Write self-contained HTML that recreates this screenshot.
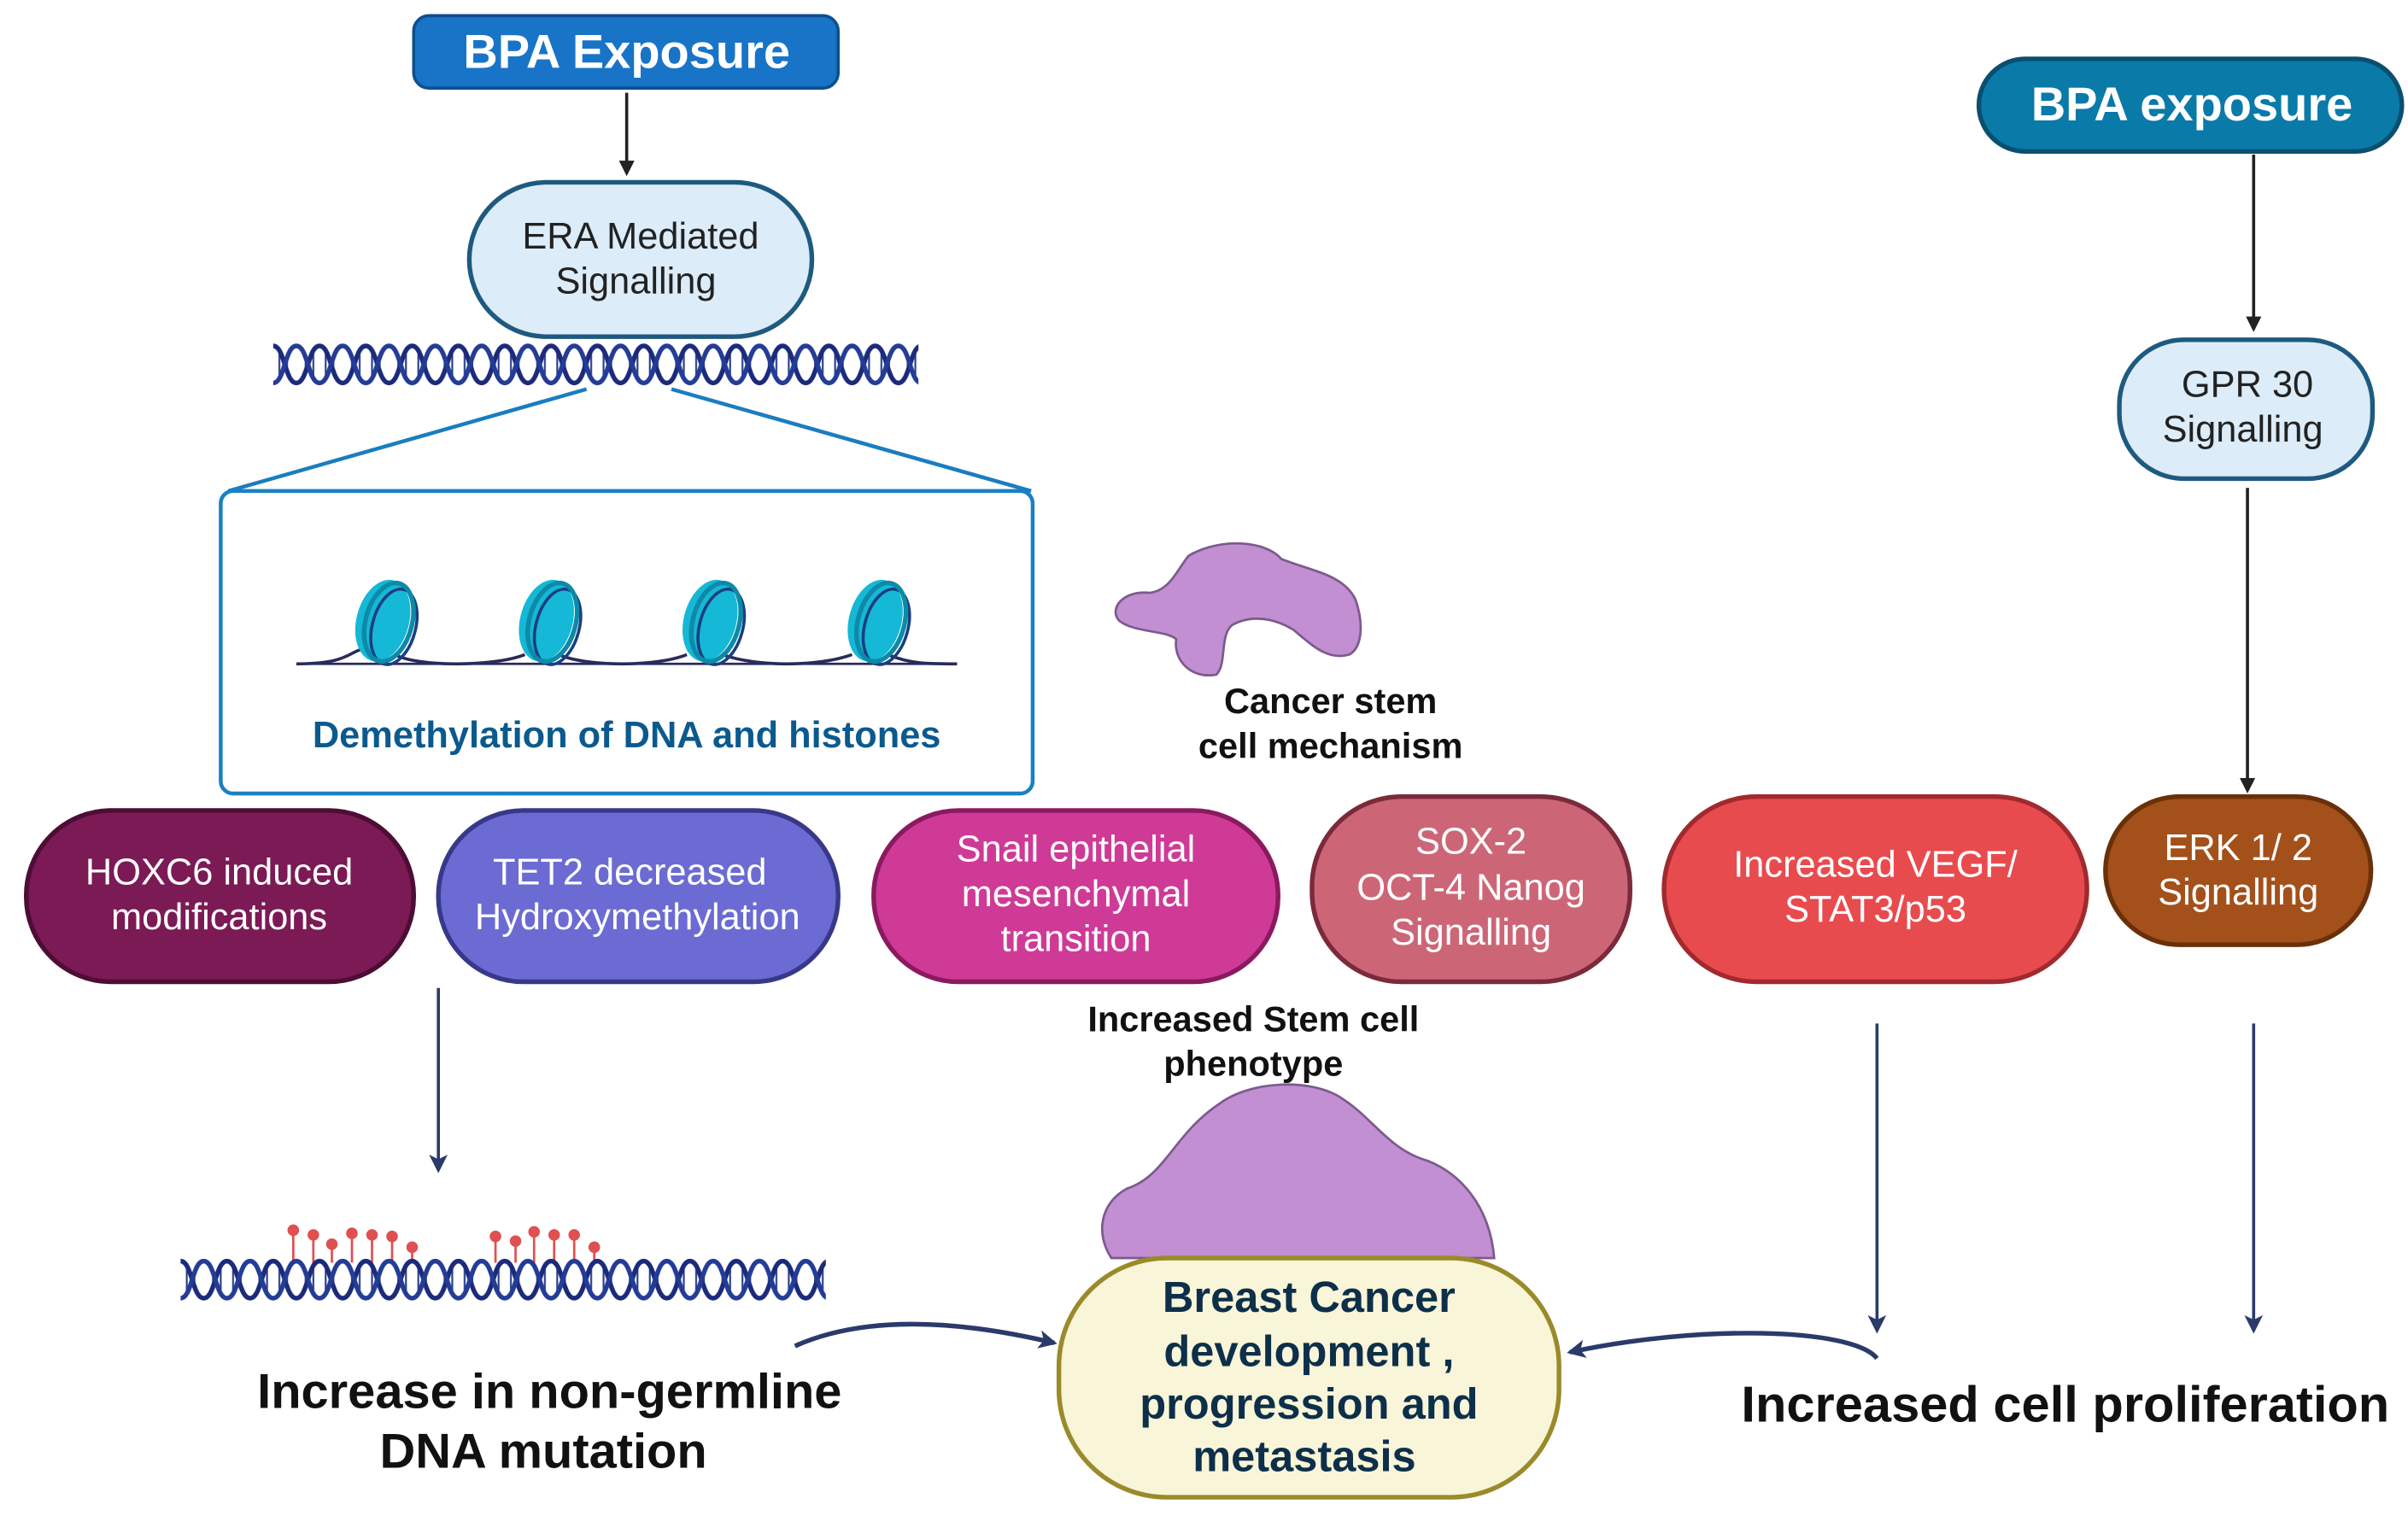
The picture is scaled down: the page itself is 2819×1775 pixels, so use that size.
<!DOCTYPE html>
<html><head><meta charset="utf-8"><style>
html,body{margin:0;padding:0;background:#fff;}
svg{display:block;}
text{font-family:"Liberation Sans Narrow","Liberation Sans",sans-serif;}
</style></head><body>
<svg width="2819" height="1775" viewBox="0 0 1560 982" xmlns="http://www.w3.org/2000/svg">
<defs>
<pattern id="dna" x="177" y="222" width="30" height="28" patternUnits="userSpaceOnUse">
<g stroke="#2a3f8f" stroke-width="1.2"><line x1="4" y1="4" x2="4" y2="24"/><line x1="9" y1="8" x2="9" y2="20"/><line x1="21" y1="8" x2="21" y2="20"/><line x1="26" y1="4" x2="26" y2="24"/></g>
<path d="M0,2 C7.5,2 7.5,26 15,26 C22.5,26 22.5,2 30,2" fill="none" stroke="#1b2a7a" stroke-width="3"/>
<path d="M0,26 C7.5,26 7.5,2 15,2 C22.5,2 22.5,26 30,26" fill="none" stroke="#243c96" stroke-width="3"/>
</pattern>
<pattern id="dna2" x="117" y="815" width="30" height="28" patternUnits="userSpaceOnUse">
<g stroke="#2a3f8f" stroke-width="1.2"><line x1="4" y1="4" x2="4" y2="24"/><line x1="9" y1="8" x2="9" y2="20"/><line x1="21" y1="8" x2="21" y2="20"/><line x1="26" y1="4" x2="26" y2="24"/></g>
<path d="M0,2 C7.5,2 7.5,26 15,26 C22.5,26 22.5,2 30,2" fill="none" stroke="#1b2a7a" stroke-width="3"/>
<path d="M0,26 C7.5,26 7.5,2 15,2 C22.5,2 22.5,26 30,26" fill="none" stroke="#243c96" stroke-width="3"/>
</pattern>
<marker id="ak" markerWidth="10" markerHeight="10" refX="8" refY="5" orient="auto" markerUnits="userSpaceOnUse"><path d="M0,0 L10,5 L0,10 Z" fill="#222"/></marker>
<marker id="an" markerWidth="12" markerHeight="12" refX="10" refY="6" orient="auto" markerUnits="userSpaceOnUse"><path d="M0,0 L12,6 L0,12 L3,6 Z" fill="#2a3a6a"/></marker>
</defs>

<rect x="268" y="10" width="275" height="47" rx="10" fill="#1874c7" stroke="#0d4f8f" stroke-width="2"/>
<text x="406" y="44" text-anchor="middle" font-size="31" font-weight="bold" fill="#fff">BPA Exposure</text>
<line x1="406" y1="60" x2="406" y2="112" stroke="#222" stroke-width="2" marker-end="url(#ak)"/>

<rect x="304" y="118" width="222" height="100" rx="50" fill="#dcecf8" stroke="#1e5a80" stroke-width="3"/>
<text x="415" y="161" text-anchor="middle" font-size="24" fill="#222">ERA Mediated</text>
<text x="412" y="190" text-anchor="middle" font-size="24" fill="#222">Signalling</text>

<rect x="177" y="222" width="418" height="28" fill="url(#dna)"/>
<line x1="380" y1="252" x2="148" y2="318" stroke="#1a7dc0" stroke-width="2.5"/>
<line x1="435" y1="252" x2="668" y2="318" stroke="#1a7dc0" stroke-width="2.5"/>
<rect x="143" y="318" width="526" height="196" rx="8" fill="#fff" stroke="#1a80c4" stroke-width="2.5"/>
<path d="M192,430 C230,430 225,420 240,420 M256,424 C270,432 320,432 340,424 M362,424 C380,432 425,432 445,424 M468,424 C490,432 530,432 552,424 M575,424 C590,430 600,430 620,430" fill="none" stroke="#2a2a5a" stroke-width="2"/>
<line x1="192" y1="430" x2="620" y2="430" stroke="#2a2a5a" stroke-width="1.5"/>
<g>
<g transform="translate(248,402) rotate(15)"><ellipse cx="0" cy="0" rx="17" ry="27" fill="#15b8d6"/><ellipse cx="8" cy="2" rx="14" ry="25" fill="none" stroke="#1a3f80" stroke-width="2"/><ellipse cx="4" cy="0" rx="15" ry="26" fill="none" stroke="#0c8aa8" stroke-width="3"/></g>
<g transform="translate(354,402) rotate(15)"><ellipse cx="0" cy="0" rx="17" ry="27" fill="#15b8d6"/><ellipse cx="8" cy="2" rx="14" ry="25" fill="none" stroke="#1a3f80" stroke-width="2"/><ellipse cx="4" cy="0" rx="15" ry="26" fill="none" stroke="#0c8aa8" stroke-width="3"/></g>
<g transform="translate(460,402) rotate(15)"><ellipse cx="0" cy="0" rx="17" ry="27" fill="#15b8d6"/><ellipse cx="8" cy="2" rx="14" ry="25" fill="none" stroke="#1a3f80" stroke-width="2"/><ellipse cx="4" cy="0" rx="15" ry="26" fill="none" stroke="#0c8aa8" stroke-width="3"/></g>
<g transform="translate(567,402) rotate(15)"><ellipse cx="0" cy="0" rx="17" ry="27" fill="#15b8d6"/><ellipse cx="8" cy="2" rx="14" ry="25" fill="none" stroke="#1a3f80" stroke-width="2"/><ellipse cx="4" cy="0" rx="15" ry="26" fill="none" stroke="#0c8aa8" stroke-width="3"/></g>
</g>
<text x="406" y="484" text-anchor="middle" font-size="24" font-weight="bold" fill="#0b5a8e">Demethylation of DNA and histones</text>

<path d="M770,360 C790,348 820,350 830,362 C850,370 870,372 878,388 C884,405 882,420 874,424 C860,428 850,418 838,408 C825,400 810,398 798,405 C790,412 795,430 788,437 C772,440 760,428 762,414 C755,408 735,410 725,402 C718,394 728,382 745,384 C758,382 762,370 770,360 Z" fill="#c18fd2" stroke="#7c5a8c" stroke-width="1.5"/>
<text x="862" y="462" text-anchor="middle" font-size="23" font-weight="bold" fill="#111">Cancer stem</text>
<text x="862" y="491" text-anchor="middle" font-size="23" font-weight="bold" fill="#111">cell mechanism</text>

<rect x="17" y="525" width="251" height="111" rx="55" fill="#7b1a55" stroke="#4d0d35" stroke-width="3"/>
<text x="142" y="573" text-anchor="middle" font-size="24" fill="#fff">HOXC6 induced</text>
<text x="142" y="602" text-anchor="middle" font-size="24" fill="#fff">modifications</text>
<rect x="284" y="525" width="259" height="111" rx="55" fill="#6b6bd3" stroke="#38388a" stroke-width="3"/>
<text x="408" y="573" text-anchor="middle" font-size="24" fill="#fff">TET2 decreased</text>
<text x="413" y="602" text-anchor="middle" font-size="24" fill="#fff">Hydroxymethylation</text>
<rect x="566" y="525" width="262" height="111" rx="55" fill="#cf3a97" stroke="#8a1a60" stroke-width="3"/>
<text x="697" y="558" text-anchor="middle" font-size="24" fill="#fff">Snail epithelial</text>
<text x="697" y="587" text-anchor="middle" font-size="24" fill="#fff">mesenchymal</text>
<text x="697" y="616" text-anchor="middle" font-size="24" fill="#fff">transition</text>
<rect x="850" y="516" width="206" height="120" rx="58" fill="#cc6677" stroke="#7a2a3a" stroke-width="3"/>
<text x="953" y="553" text-anchor="middle" font-size="24" fill="#fff">SOX-2</text>
<text x="953" y="583" text-anchor="middle" font-size="24" fill="#fff">OCT-4 Nanog</text>
<text x="953" y="612" text-anchor="middle" font-size="24" fill="#fff">Signalling</text>
<rect x="1078" y="516" width="274" height="120" rx="60" fill="#e84b4e" stroke="#a02a2e" stroke-width="3"/>
<text x="1215" y="568" text-anchor="middle" font-size="24" fill="#fff">Increased  VEGF/</text>
<text x="1215" y="597" text-anchor="middle" font-size="24" fill="#fff">STAT3/p53</text>
<rect x="1364" y="516" width="172" height="96" rx="48" fill="#a3501a" stroke="#6a300a" stroke-width="3"/>
<text x="1450" y="557" text-anchor="middle" font-size="24" fill="#fff">ERK 1/ 2</text>
<text x="1450" y="586" text-anchor="middle" font-size="24" fill="#fff">Signalling</text>

<rect x="1282" y="38" width="274" height="60" rx="30" fill="#0a7aa8" stroke="#0a4f70" stroke-width="3"/>
<text x="1420" y="78" text-anchor="middle" font-size="31" font-weight="bold" fill="#fff">BPA exposure</text>
<line x1="1460" y1="100" x2="1460" y2="213" stroke="#222" stroke-width="2" marker-end="url(#ak)"/>
<rect x="1373" y="220" width="164" height="90" rx="42" fill="#dcecf8" stroke="#1e5a80" stroke-width="3"/>
<text x="1456" y="257" text-anchor="middle" font-size="24" fill="#222">GPR 30</text>
<text x="1453" y="286" text-anchor="middle" font-size="24" fill="#222">Signalling</text>
<line x1="1456" y1="316" x2="1456" y2="512" stroke="#222" stroke-width="2" marker-end="url(#ak)"/>

<text x="812" y="668" text-anchor="middle" font-size="23" font-weight="bold" fill="#111">Increased Stem cell</text>
<text x="812" y="697" text-anchor="middle" font-size="23" font-weight="bold" fill="#111">phenotype</text>
<path d="M790,715 C810,700 850,698 870,712 C890,725 900,745 925,752 C945,760 965,780 968,815 L720,815 C710,800 712,780 730,770 C755,762 760,735 790,715 Z" fill="#c18fd2" stroke="#7c5a8c" stroke-width="1.5"/>
<rect x="686" y="815" width="324" height="155" rx="70" fill="#f8f5d8" stroke="#9b8a2a" stroke-width="3"/>
<text x="848" y="850" text-anchor="middle" font-size="28" font-weight="bold" fill="#0d2f4a">Breast Cancer</text>
<text x="848" y="885" text-anchor="middle" font-size="28" font-weight="bold" fill="#0d2f4a">development ,</text>
<text x="848" y="919" text-anchor="middle" font-size="28" font-weight="bold" fill="#0d2f4a">progression and</text>
<text x="845" y="953" text-anchor="middle" font-size="28" font-weight="bold" fill="#0d2f4a">metastasis</text>

<line x1="284" y1="640" x2="284" y2="758" stroke="#2a3a6a" stroke-width="2" marker-end="url(#an)"/>
<g stroke="#e05050" stroke-width="1.5" fill="#e05050">
<line x1="190" y1="797" x2="190" y2="818"/><circle cx="190" cy="797" r="3"/>
<line x1="203" y1="800" x2="203" y2="818"/><circle cx="203" cy="800" r="3"/>
<line x1="215" y1="806" x2="215" y2="818"/><circle cx="215" cy="806" r="3"/>
<line x1="228" y1="799" x2="228" y2="818"/><circle cx="228" cy="799" r="3"/>
<line x1="241" y1="800" x2="241" y2="818"/><circle cx="241" cy="800" r="3"/>
<line x1="254" y1="801" x2="254" y2="818"/><circle cx="254" cy="801" r="3"/>
<line x1="267" y1="808" x2="267" y2="818"/><circle cx="267" cy="808" r="3"/>
<line x1="321" y1="801" x2="321" y2="818"/><circle cx="321" cy="801" r="3"/>
<line x1="334" y1="804" x2="334" y2="818"/><circle cx="334" cy="804" r="3"/>
<line x1="346" y1="798" x2="346" y2="818"/><circle cx="346" cy="798" r="3"/>
<line x1="359" y1="800" x2="359" y2="818"/><circle cx="359" cy="800" r="3"/>
<line x1="372" y1="800" x2="372" y2="818"/><circle cx="372" cy="800" r="3"/>
<line x1="385" y1="808" x2="385" y2="818"/><circle cx="385" cy="808" r="3"/>
</g>
<rect x="117" y="815" width="418" height="28" fill="url(#dna2)"/>
<text x="356" y="912" text-anchor="middle" font-size="32" font-weight="bold" fill="#111">Increase in non-germline</text>
<text x="352" y="951" text-anchor="middle" font-size="32" font-weight="bold" fill="#111">DNA mutation</text>
<path d="M515,872 C560,852 620,855 683,870" fill="none" stroke="#2a3a6a" stroke-width="3" marker-end="url(#an)"/>

<line x1="1216" y1="663" x2="1216" y2="862" stroke="#2a3a6a" stroke-width="2" marker-end="url(#an)"/>
<line x1="1460" y1="663" x2="1460" y2="862" stroke="#2a3a6a" stroke-width="2" marker-end="url(#an)"/>
<path d="M1216,880 C1200,860 1100,858 1017,876" fill="none" stroke="#2a3a6a" stroke-width="3" marker-end="url(#an)"/>
<text x="1338" y="921" text-anchor="middle" font-size="33" font-weight="bold" fill="#111">Increased  cell proliferation</text>
</svg>
</body></html>
